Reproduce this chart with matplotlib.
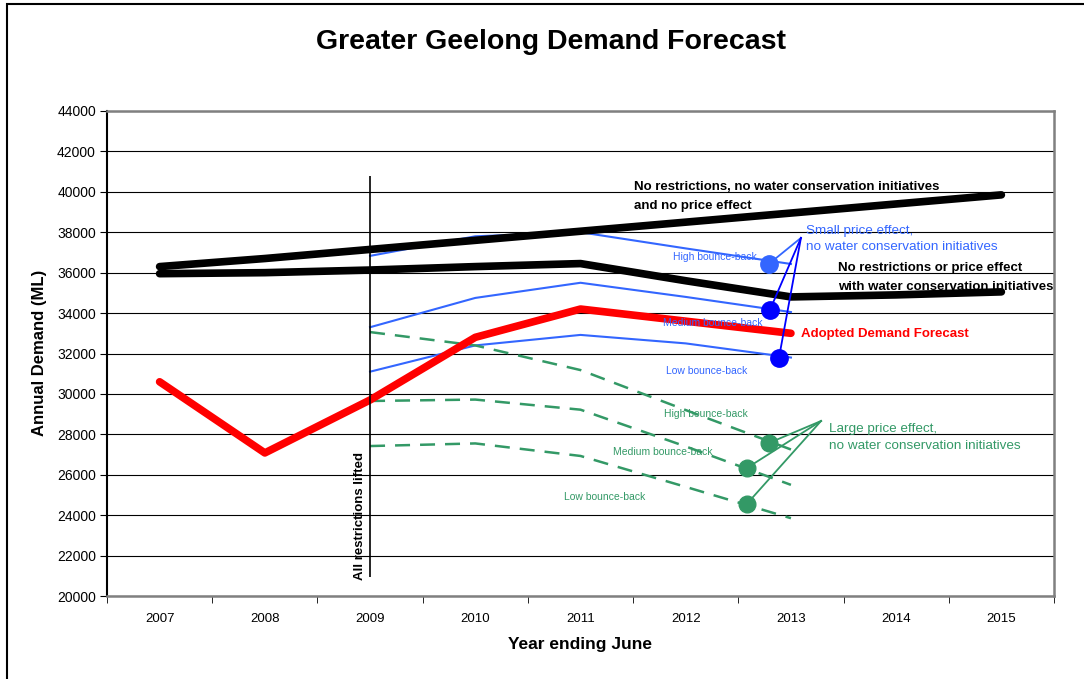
import matplotlib
matplotlib.use('Agg')
import matplotlib.pyplot as plt
from matplotlib.patches import Rectangle

plt.rcParams['font.family'] = ['Liberation Sans', 'DejaVu Sans']

# years on the category axis
years = ['2007', '2008', '2009', '2010', '2011', '2012', '2013', '2014', '2015']

# black scenarios (2007-2015)
no_restr_no_cons = [36300, 36700, 37150, 37600, 38050, 38500, 38950, 39400, 39850]
no_restr_with_cons = [35950, 36000, 36130, 36300, 36450, 35600, 34800, 34900, 35050]

# adopted forecast (2007-2013)
adopted = [30600, 27080, 29700, 32800, 34200, 33600, 33000]

# small price effect (2009-2013)
small_high = [36830, 37800, 38000, 37200, 36430]
small_med = [33300, 34750, 35500, 34800, 34050]
small_low = [31100, 32400, 32920, 32500, 31800]

# large price effect (2009-2013)
large_high = [33060, 32400, 31180, 29200, 27250]
large_med = [29650, 29720, 29220, 27400, 25500]
large_low = [27420, 27550, 26930, 25400, 23850]

# callout markers (x in category units, y in ML)
small_pts_x = [5.79, 5.80, 5.886]
small_pts_y = [36430, 34150, 31780]
small_anchor = (6.095, 37720)
large_pts_x = [5.79, 5.58, 5.58]
large_pts_y = [27570, 26330, 24550]
large_anchor = (6.286, 28660)

BLUE = '#3366FF'
DBLUE = '#0000FF'
GREEN = '#339966'

fig = plt.figure(figsize=(10.84, 6.79), dpi=100)
ax = fig.add_axes([107 / 1084, 1 - 596 / 679, (1054 - 107) / 1084, (596 - 111) / 679])

x_all = list(range(len(years)))
x_fc = x_all[2:7]

ax.plot(x_all, no_restr_no_cons, color='black', lw=5.5, solid_capstyle='round', solid_joinstyle='round', zorder=4)
ax.plot(x_all, no_restr_with_cons, color='black', lw=5.5, solid_capstyle='round', solid_joinstyle='round', zorder=4)
ax.plot(x_all[:7], adopted, color='#FF0000', lw=5.5, solid_capstyle='round', solid_joinstyle='round', zorder=4)

for s in (small_high, small_med, small_low):
    ax.plot(x_fc, s, color=BLUE, lw=1.5, zorder=3)
for s in (large_high, large_med, large_low):
    ax.plot(x_fc, s, color=GREEN, lw=1.8, dashes=(6, 4), zorder=3)

# callout lines and markers
for i, (px, py) in enumerate(zip(small_pts_x, small_pts_y)):
    c = BLUE if i == 0 else DBLUE
    ax.plot([px, small_anchor[0]], [py, small_anchor[1]], color=c, lw=1.3, zorder=5)
    ax.plot(px, py, 'o', color=c, ms=12.5, zorder=6)
for px, py in zip(large_pts_x, large_pts_y):
    ax.plot([px, large_anchor[0]], [py, large_anchor[1]], color=GREEN, lw=1.3, zorder=5)
    ax.plot(px, py, 'o', color=GREEN, ms=12, zorder=6)

# restrictions lifted marker
ax.vlines(2, 20950, 40800, color='black', lw=1.2, zorder=5)
ax.text(1.905, 20800, 'All restrictions lifted', rotation=90, ha='center', va='bottom',
        fontsize=9.5, fontweight='bold')

# labels
ax.text(4.505, 40240, 'No restrictions, no water conservation initiatives', fontsize=9.5, fontweight='bold', va='center')
ax.text(4.505, 39300, 'and no price effect', fontsize=9.5, fontweight='bold', va='center')
ax.text(6.448, 36230, 'No restrictions or price effect', fontsize=9.5, fontweight='bold', va='center')
ax.text(6.448, 35290, 'with water conservation initiatives', fontsize=9.5, fontweight='bold', va='center')
ax.text(6.095, 32970, 'Adopted Demand Forecast', fontsize=9.5, fontweight='bold', color='#FF0000', va='center')

ax.text(6.143, 38060, 'Small price effect,', fontsize=9.7, color=BLUE, va='center')
ax.text(6.143, 37270, 'no water conservation initiatives', fontsize=9.7, color=BLUE, va='center')
ax.text(6.362, 28265, 'Large price effect,', fontsize=9.7, color=GREEN, va='center')
ax.text(6.362, 27424, 'no water conservation initiatives', fontsize=9.7, color=GREEN, va='center')

ax.text(5.276, 36776, 'High bounce-back', fontsize=7.5, color=BLUE, ha='center', va='center', zorder=7)
ax.text(5.257, 33510, 'Medium bounce-back', fontsize=7.5, color=BLUE, ha='center', va='center', zorder=7)
ax.text(5.2, 31135, 'Low bounce-back', fontsize=7.5, color=BLUE, ha='center', va='center', zorder=7)
ax.text(5.19, 29007, 'High bounce-back', fontsize=7.5, color=GREEN, ha='center', va='center', zorder=7)
ax.text(4.78, 27127, 'Medium bounce-back', fontsize=7.5, color=GREEN, ha='center', va='center', zorder=7)
ax.text(4.23, 24900, 'Low bounce-back', fontsize=7.5, color=GREEN, ha='center', va='center', zorder=7)

# axes styling
ax.set_xlim(-0.5, 8.5)
ax.set_ylim(20000, 44000)
ax.set_yticks(range(20000, 44001, 2000))
ax.set_xticks(x_all)
ax.set_xticklabels(years)
ax.set_xticks([i - 0.5 for i in range(len(years) + 1)], minor=True)
ax.tick_params(axis='x', which='major', length=0, pad=12, labelsize=9.5)
ax.tick_params(axis='x', which='minor', length=5, direction='out', color='black')
ax.tick_params(axis='y', length=5, direction='out', pad=3, labelsize=10)
ax.grid(axis='y', color='black', lw=0.8)
ax.set_axisbelow(True)
for side in ('top', 'right', 'bottom'):
    ax.spines[side].set_color('#808080')
    ax.spines[side].set_linewidth(1.8)
ax.spines['left'].set_color('black')
ax.spines['left'].set_linewidth(1.5)

fig.text(551 / 1084, 1 - 42 / 679, 'Greater Geelong Demand Forecast', ha='center', va='center',
         fontsize=20.5, fontweight='bold')
fig.text(40 / 1084, 1 - 353 / 679, 'Annual Demand (ML)', rotation=90, ha='center', va='center',
         fontsize=12, fontweight='bold')
fig.text(580 / 1084, 1 - 644 / 679, 'Year ending June', ha='center', va='center',
         fontsize=12.5, fontweight='bold')

# outer chart frame
fig.patches.append(Rectangle((7 / 1084, -0.05), 1.1, 1.05 - 4 / 679, transform=fig.transFigure,
                             fill=False, edgecolor='black', lw=1.5))

fig.savefig('out.png', dpi=100)
